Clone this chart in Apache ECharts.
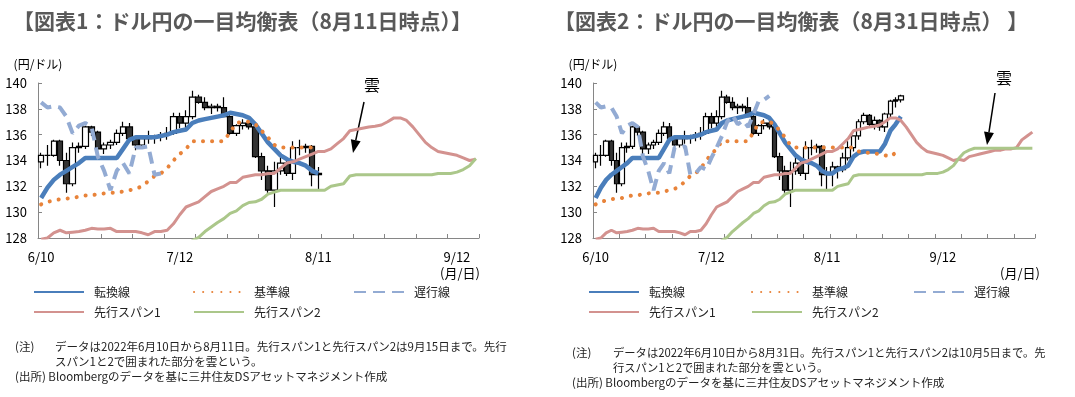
<!DOCTYPE html>
<html>
<head>
<meta charset="utf-8">
<script src="https://cdn.jsdelivr.net/npm/echarts/dist/echarts.min.js"></script>
<style>
html, body { margin: 0; padding: 0; background: #fff; }
#main { width: 1075px; height: 397px; }
</style>
</head>
<body>
<div id="main"></div>
<script>
// trading days 2022/6/10 - 10/5
var dates = ['6/10','6/13','6/14','6/15','6/16','6/17','6/20','6/21','6/22','6/23','6/24',
    '6/27','6/28','6/29','6/30','7/1','7/4','7/5','7/6','7/7','7/8','7/11','7/12','7/13','7/14','7/15',
    '7/18','7/19','7/20','7/21','7/22','7/25','7/26','7/27','7/28','7/29','8/1','8/2','8/3','8/4','8/5',
    '8/8','8/9','8/10','8/11','8/12','8/15','8/16','8/17','8/18','8/19','8/22','8/23','8/24','8/25','8/26',
    '8/29','8/30','8/31','9/1','9/2','9/5','9/6','9/7','9/8','9/9','9/12','9/13','9/14','9/15','9/16',
    '9/19','9/20','9/21','9/22','9/23','9/26','9/27','9/28','9/29','9/30','10/3','10/4','10/5'];

// USD/JPY daily candles 6/10 - 8/31
var opens = [133.9,134.4,134.4,135.5,134.0,132.2,135.0,135.1,136.6,136.2,
    134.9,135.2,135.4,136.1,136.6,135.7,135.2,135.7,135.9,135.9,
    136.0,136.1,137.4,136.9,137.4,138.9,138.5,138.1,138.2,138.1,
    137.4,136.1,136.7,136.9,136.6,134.3,133.2,131.7,133.2,133.8,
    133.0,135.0,135.0,135.1,132.9,133.0,133.5,133.3,134.2,135.0,
    135.9,137.0,137.5,136.8,137.1,136.6,137.6,138.6,138.7];
var closes = [134.4,134.4,135.5,134.0,132.2,135.0,135.1,136.6,136.2,134.9,
    135.2,135.4,136.1,136.6,135.7,135.2,135.7,135.9,135.9,136.0,
    136.1,137.4,136.9,137.4,138.9,138.5,138.1,138.2,138.1,137.4,
    136.1,136.7,136.9,136.6,134.3,133.2,131.7,133.2,133.8,133.0,
    135.0,135.0,135.1,132.9,133.0,133.5,133.3,134.2,135.0,135.9,
    137.0,137.5,136.8,137.1,136.6,137.6,138.6,138.7,139.0];
var lows = [133.4,133.6,134.3,133.6,131.5,132.0,134.6,134.9,135.9,134.3,
    134.5,134.9,135.2,135.9,135.5,134.8,135.0,135.3,135.3,135.5,
    135.6,136.0,136.5,136.4,137.2,138.4,137.9,137.6,137.8,137.4,
    136.0,135.9,136.4,136.4,134.2,132.5,131.5,130.4,132.9,132.8,
    132.5,134.4,134.6,132.0,131.8,132.0,132.6,133.1,134.0,134.7,
    135.6,136.8,136.6,136.4,136.3,136.2,137.3,138.1,138.5];
var highs = [134.6,135.2,135.6,135.6,134.6,135.4,135.4,136.7,136.7,136.3,
    135.4,135.6,136.4,137.0,136.9,135.8,135.8,136.3,136.0,136.2,
    136.6,137.7,137.7,137.9,139.4,139.1,138.9,138.4,138.4,138.9,
    137.5,136.8,137.2,137.4,136.7,134.6,133.6,133.9,134.5,134.1,
    135.5,135.6,135.3,135.2,133.5,133.9,133.6,134.6,135.5,135.9,
    137.2,137.7,137.6,137.4,137.2,137.7,138.7,138.9,139.1];

// 転換線 / 基準線 (6/10 - 8/31)
var tenkan = [131.1,131.9,132.5,132.9,133.2,133.5,133.8,134.2,134.2,134.2,
    134.2,134.2,134.2,134.9,135.6,135.8,135.8,135.8,135.8,135.9,
    136.0,136.2,136.3,136.4,136.9,137.1,137.2,137.3,137.4,137.5,
    137.7,137.6,137.5,137.3,136.8,136.1,135.4,134.9,134.4,134.1,
    133.9,133.8,133.6,133.2,133.0,133.0,133.3,133.4,133.6,134.3,
    134.6,134.7,134.7,134.7,134.7,135.3,136.3,136.8,137.4];
var kijun = [130.6,130.8,130.9,131.0,131.05,131.1,131.2,131.3,131.3,131.4,
    131.45,131.5,131.5,131.6,131.7,131.8,132.0,132.4,132.8,133.0,
    133.4,134.0,134.5,134.9,135.5,135.5,135.5,135.5,135.5,135.5,
    136.2,136.9,137.0,137.0,136.8,136.3,135.8,135.2,135.0,135.0,
    135.0,135.0,135.0,135.0,135.0,135.0,135.0,135.0,135.0,135.0,
    134.7,134.6,134.6,134.55,134.5,134.4,134.3,134.6,134.8];

// 先行スパン1 / 2 (6/10 - 10/5)
var span1 = [127.9,128.0,128.4,128.6,128.4,128.45,128.5,128.6,128.75,128.7,
    128.7,128.75,128.5,128.5,128.5,128.5,128.4,128.25,128.5,128.5,
    128.6,129.1,129.8,130.4,130.6,130.8,131.2,131.6,131.8,132.0,
    132.3,132.3,132.7,132.8,132.9,132.9,133.0,133.0,133.4,133.8,
    133.9,134.1,134.3,134.5,134.7,134.7,134.9,135.3,135.7,136.3,
    136.4,136.5,136.6,136.65,136.75,137.0,137.3,137.3,137.1,136.6,
    136.0,135.4,135.0,134.7,134.6,134.5,134.4,134.2,134.0,134.1,
    134.0,134.3,134.4,134.5,134.6,134.7,134.8,134.8,134.9,134.9,
    135.0,135.6,135.9,136.2];
var span2 = [null,null,null,null,null,null,null,null,null,null,
    null,null,null,null,null,null,null,null,null,null,
    null,null,127.0,127.4,127.8,128.05,128.5,128.85,129.2,129.5,
    129.9,130.1,130.5,130.75,130.8,131.0,131.4,131.55,131.7,131.7,
    131.7,131.7,131.7,131.7,131.7,131.7,132.0,132.1,132.2,132.8,
    132.9,132.9,132.9,132.9,132.9,132.9,132.9,132.9,132.9,132.9,
    132.9,132.9,132.9,133.0,133.0,133.0,133.1,133.3,133.6,134.15,
    134.6,134.8,134.95,134.95,134.95,134.95,134.95,134.95,134.95,134.95,
    134.95,134.95,134.95,134.95];

var FONT = '"Noto Sans CJK JP", "Noto Sans", sans-serif';
var SHIFT = 25;

var myChart = echarts.init(document.getElementById('main'));

var grids = [
    { left: 38, top: 83, width: 441, height: 155 },
    { left: 593, top: 83, width: 442, height: 155 }
];
var lastDay = [44, 58];
var lastSpan = [69, 83];
var candleW = [6, 5];

var xAxes = [], yAxes = [], series = [];
for (var g = 0; g < 2; g++) {
    xAxes.push({
        type: 'category',
        gridIndex: g,
        data: dates.slice(0, lastSpan[g] + 1),
        boundaryGap: true,
        axisLine: { show: true, lineStyle: { color: '#868686', width: 1 } },
        axisTick: { show: true, inside: true, length: 4, interval: 4, lineStyle: { color: '#868686' } },
        axisLabel: { interval: 21, margin: 13, fontSize: 13, color: '#000', fontFamily: FONT },
        splitLine: { show: false }
    });
    yAxes.push({
        type: 'value',
        gridIndex: g,
        min: 128,
        max: 140,
        interval: 2,
        name: '(円/ドル)',
        nameLocation: 'end',
        nameGap: 13,
        nameTextStyle: { fontSize: 12, color: '#000', fontFamily: FONT, align: 'center' },
        axisLine: { show: true, lineStyle: { color: '#868686', width: 1 } },
        axisTick: { show: true, inside: true, length: 4, lineStyle: { color: '#868686' } },
        axisLabel: { margin: 11, fontSize: 13, color: '#000', fontFamily: FONT },
        splitLine: { show: false }
    });

    var candles = [];
    for (var i = 0; i <= lastDay[g]; i++) {
        candles.push([opens[i], closes[i], lows[i], highs[i]]);
    }

    series.push({
        name: 'ドル円',
        type: 'candlestick',
        xAxisIndex: g, yAxisIndex: g,
        barWidth: candleW[g],
        data: candles,
        itemStyle: { color: '#fff', color0: '#333', borderColor: '#000', borderColor0: '#000', borderWidth: 1.2 },
        z: 2
    });
    series.push({
        name: '転換線', type: 'line', xAxisIndex: g, yAxisIndex: g,
        data: tenkan.slice(0, lastDay[g] + 1),
        symbol: 'none', lineStyle: { color: '#4A7EBB', width: 4.5 }, itemStyle: { color: '#4A7EBB' }, z: 3
    });
    series.push({
        name: '基準線', type: 'line', xAxisIndex: g, yAxisIndex: g,
        data: kijun.slice(0, lastDay[g] + 1),
        symbol: 'none', lineStyle: { color: '#E8833A', width: 4, type: [0.1, 9], cap: 'round' }, itemStyle: { color: '#E8833A' }, z: 4
    });
    series.push({
        name: '遅行線', type: 'line', xAxisIndex: g, yAxisIndex: g,
        data: closes.slice(SHIFT, lastDay[g] + 1),
        symbol: 'none', lineStyle: { color: '#93ABD3', width: 4, type: [12, 7] }, itemStyle: { color: '#93ABD3' }, z: 5
    });
    series.push({
        name: '先行スパン1', type: 'line', xAxisIndex: g, yAxisIndex: g,
        data: span1.slice(0, lastSpan[g] + 1),
        symbol: 'none', lineStyle: { color: '#D3928F', width: 3 }, itemStyle: { color: '#D3928F' }, z: 6
    });
    series.push({
        name: '先行スパン2', type: 'line', xAxisIndex: g, yAxisIndex: g,
        data: span2.slice(0, lastSpan[g] + 1),
        symbol: 'none', lineStyle: { color: '#ABC78A', width: 3 }, itemStyle: { color: '#ABC78A' }, z: 7
    });
}

function legendItem(name, left, top) {
    return {
        data: [name], left: left, top: top, padding: 0,
        itemWidth: 50, itemHeight: 12, selectedMode: false,
        itemStyle: { opacity: 0 },
        textStyle: { fontSize: 12, color: '#222', fontFamily: FONT, padding: [0, 0, 0, 5] }
    };
}

function arrow(x1, y1, x2, y2) {
    var dx = x2 - x1, dy = y2 - y1, len = Math.sqrt(dx * dx + dy * dy);
    var ux = dx / len, uy = dy / len, hl = 13, hw = 5;
    var bx = x2 - ux * hl, by = y2 - uy * hl;
    return [
        { type: 'line', shape: { x1: x1, y1: y1, x2: bx, y2: by }, style: { stroke: '#000', lineWidth: 1.5 } },
        { type: 'polygon', shape: { points: [[x2, y2], [bx - uy * hw, by + ux * hw], [bx + uy * hw, by - ux * hw]] }, style: { fill: '#000' } }
    ];
}

function txt(s, x, y, size, color) {
    return { type: 'text', x: x, y: y, style: { text: s, font: size + 'px ' + FONT, fill: color || '#222', verticalAlign: 'middle' } };
}

var graphics = [
    txt('雲', 364, 85, 16, '#000'),
    txt('雲', 996, 78, 16, '#000'),
    txt('(月/日)', 440, 273, 13, '#000'),
    txt('(月/日)', 1000, 273, 13, '#000'),
    txt('(注)', 15, 347, 11.5),
    txt('データは2022年6月10日から8月11日。先行スパン1と先行スパン2は9月15日まで。先行', 55, 347, 11.5),
    txt('スパン1と2で囲まれた部分を雲という。', 55, 362, 11.5),
    txt('(出所) Bloombergのデータを基に三井住友DSアセットマネジメント作成', 15, 377, 11.5),
    txt('(注)', 572, 353, 11.5),
    txt('データは2022年6月10日から8月31日。先行スパン1と先行スパン2は10月5日まで。先', 613, 353, 11.3),
    txt('行スパン1と2で囲まれた部分を雲という。', 613, 368, 11.3),
    txt('(出所) Bloombergのデータを基に三井住友DSアセットマネジメント作成', 572, 383, 11.5)
].concat(arrow(364, 102, 353, 153), arrow(995, 93, 987, 145));

var option = {
    backgroundColor: '#fff',
    animation: false,
    title: [
        { text: '【図表1：ドル円の一目均衡表（8月11日時点）】', left: 13, top: 11, padding: 0,
          textStyle: { fontSize: 21, fontWeight: 'bold', color: '#595959', fontFamily: FONT } },
        { text: '【図表2：ドル円の一目均衡表（8月31日時点） 】', left: 554, top: 11, padding: 0,
          textStyle: { fontSize: 21, fontWeight: 'bold', color: '#595959', fontFamily: FONT } }
    ],
    legend: [
        legendItem('転換線', 33, 286), legendItem('基準線', 193, 286), legendItem('遅行線', 353, 286),
        legendItem('先行スパン1', 33, 306), legendItem('先行スパン2', 193, 306),
        legendItem('転換線', 588, 286), legendItem('基準線', 751, 286), legendItem('遅行線', 913, 286),
        legendItem('先行スパン1', 588, 306), legendItem('先行スパン2', 751, 306)
    ],
    grid: grids,
    xAxis: xAxes,
    yAxis: yAxes,
    series: series,
    graphic: graphics
};

myChart.setOption(option);
window.onresize = myChart.resize;
</script>
</body>
</html>
